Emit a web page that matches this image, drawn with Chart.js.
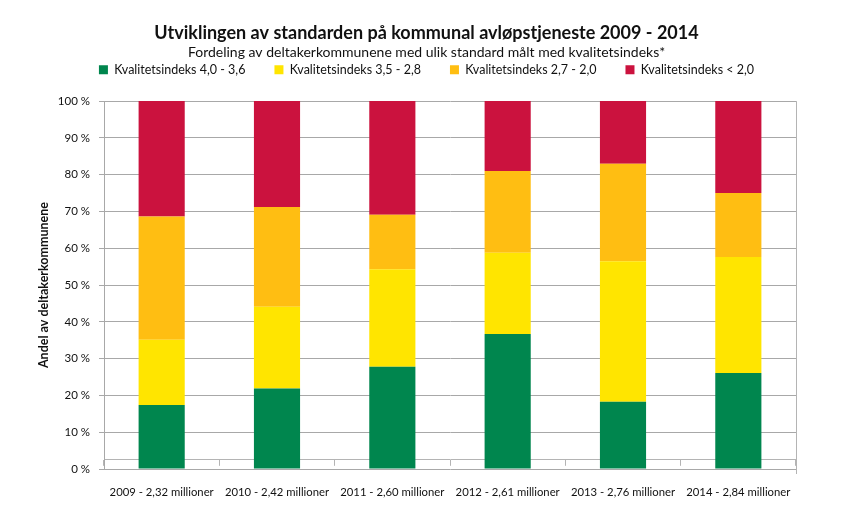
<!DOCTYPE html>
<html>
<head>
<meta charset="utf-8">
<script src="https://cdn.jsdelivr.net/npm/chart.js@4"></script>
<style>
    html, body { margin: 0; padding: 0; background: #ffffff; }
    #wrap { width: 845px; height: 520px; }
</style>
</head>
<body>
<div id="wrap"><canvas id="standardChart"></canvas></div>
<script>
const categories = ['2009 - 2,32 millioner', '2010 - 2,42 millioner', '2011 - 2,60 millioner',
    '2012 - 2,61 millioner', '2013 - 2,76 millioner', '2014 - 2,84 millioner'];
const seriesNames = ['Kvalitetsindeks 4,0 - 3,6', 'Kvalitetsindeks 3,5 - 2,8',
    'Kvalitetsindeks 2,7 - 2,0', 'Kvalitetsindeks < 2,0'];
const green = [17.4, 21.9, 27.8, 36.7, 18.3, 26.1];
const yellow = [17.7, 22.2, 26.5, 22.1, 38.2, 31.5];
const orange = [33.5, 27.1, 14.8, 22.2, 26.5, 17.4];
const red = [31.4, 28.8, 30.9, 19.0, 17.0, 25.0];
const yTicks = [0, 10, 20, 30, 40, 50, 60, 70, 80, 90, 100];
const yTitle = 'Andel av deltakerkommunene';

const colors = ['#00864e', '#ffe500', '#ffbe12', '#cb123e'];
const fontFamily = 'Lato, "Open Sans", sans-serif';

// right border line of the plot area
const plotBorder = {
    id: 'plotBorder',
    afterDraw(chart) {
        const ctx = chart.ctx;
        const a = chart.chartArea;
        ctx.save();
        ctx.strokeStyle = '#b4b4b4';
        ctx.lineWidth = 1;
        ctx.beginPath();
        ctx.moveTo(Math.round(a.right) + 0.5, a.top);
        ctx.lineTo(Math.round(a.right) + 0.5, a.bottom + 5);
        ctx.stroke();
        ctx.restore();
    }
};

// y axis title drawn outside the layout so the titles stay centred like the original
const yAxisTitle = {
    id: 'yAxisTitle',
    afterDraw(chart) {
        const ctx = chart.ctx;
        const a = chart.chartArea;
        ctx.save();
        ctx.translate(44, (a.top + a.bottom) / 2);
        ctx.rotate(-Math.PI / 2);
        ctx.fillStyle = '#111';
        ctx.font = 'bold 12.5px ' + fontFamily;
        ctx.textAlign = 'center';
        ctx.textBaseline = 'middle';
        ctx.fillText(yTitle, 0, 0);
        ctx.restore();
    }
};

// extra room between legend and plot
const legendGap = {
    id: 'legendGap',
    beforeLayout(chart) {
        const lg = chart.legend;
        if (lg && !lg._gapDone) {
            const fit = lg.fit;
            lg.fit = function () { fit.call(this); this.height += 6; };
            lg._gapDone = true;
        }
    }
};

new Chart(document.getElementById('standardChart'), {
    type: 'bar',
    data: {
        labels: categories,
        datasets: [green, yellow, orange, red].map((d, i) => ({
            label: seriesNames[i],
            data: d,
            backgroundColor: colors[i],
            borderWidth: 0,
            categoryPercentage: 1,
            barPercentage: 0.4
        }))
    },
    options: {
        responsive: true,
        maintainAspectRatio: false,
        animation: false,
        layout: { padding: { left: 57, right: 49, top: 22, bottom: 0 } },
        plugins: {
            title: {
                display: true,
                text: 'Utviklingen av standarden på kommunal avløpstjeneste 2009 - 2014',
                color: '#111',
                font: { family: fontFamily, size: 18, weight: 'bold' },
                padding: { top: 0, bottom: 0 }
            },
            subtitle: {
                display: true,
                text: 'Fordeling av deltakerkommunene med ulik standard målt med kvalitetsindeks*',
                color: '#111',
                font: { family: fontFamily, size: 14 },
                padding: { top: 0, bottom: -26 }
            },
            legend: {
                position: 'top',
                labels: {
                    boxWidth: 9,
                    boxHeight: 9,
                    padding: 29,
                    color: '#111',
                    font: { family: fontFamily, size: 12.5 }
                }
            },
            tooltip: { enabled: false }
        },
        scales: {
            x: {
                stacked: true,
                grid: { display: true, drawOnChartArea: false, offset: true, tickLength: 6, color: '#b4b4b4' },
                border: { color: '#b4b4b4' },
                afterFit: axis => { axis.height = 51; },
                ticks: {
                    color: '#111',
                    padding: 20,
                    maxRotation: 0,
                    autoSkip: false,
                    font: { family: fontFamily, size: 11.3 }
                }
            },
            y: {
                stacked: true,
                min: 0,
                max: 100,
                afterBuildTicks: axis => { axis.ticks = yTicks.map(v => ({ value: v })); },
                afterFit: axis => { axis.width = 47; },
                grid: { color: '#a8a8a8', tickLength: 5 },
                border: { color: '#a8a8a8' },
                ticks: {
                    color: '#111',
                    padding: 9,
                    font: { family: fontFamily, size: 11.5 },
                    callback: v => v + ' %'
                }
            }
        }
    },
    plugins: [plotBorder, yAxisTitle, legendGap]
});
</script>
</body>
</html>
